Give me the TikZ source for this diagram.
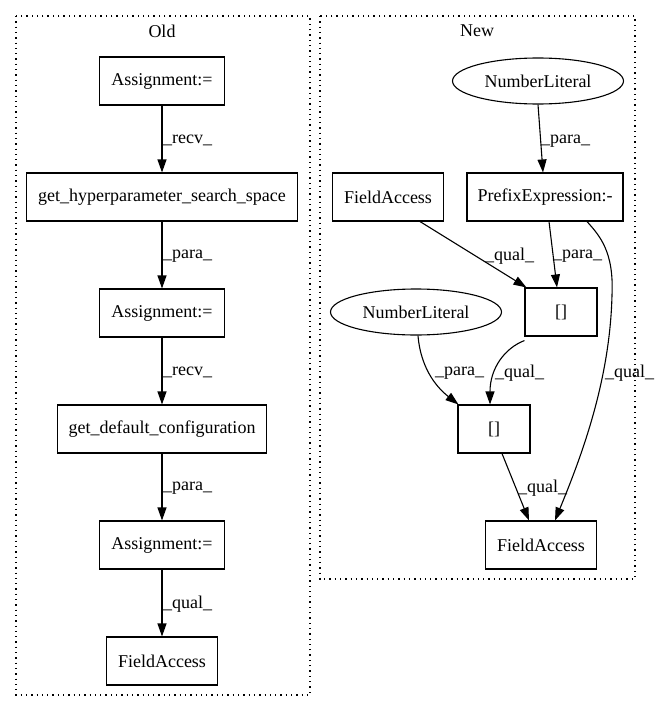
\documentclass[tikz,border=0pt]{standalone}
\usepackage{fontspec}
\setmainfont{Liberation Serif}
\usetikzlibrary{arrows.meta,shapes.geometric}
\begin{document}
\begin{tikzpicture}[x=1pt,y=-1pt,
  font=\fontsize{18}{21}\selectfont,
  box/.style={draw,line width=1.1pt,inner sep=0pt,minimum height=48pt},
  ell/.style={draw,line width=1.1pt,ellipse,inner sep=0pt,minimum width=171pt,minimum height=46pt},
  edge/.style={line width=1.1pt,-{Triangle[length=13pt,width=9pt]}},
  lbl/.style={anchor=west,inner sep=0pt},
  cluster/.style={draw,line width=1.1pt,dash pattern=on 1.3pt off 4pt}]
\useasboundingbox (0,0) rectangle (660,712);
% clusters
\draw[cluster] (16,16) rectangle (310,695);
\draw[cluster] (320,16) rectangle (635,579);
\node (toldt) at (162,31) {Old};
\node (tnewt) at (477,31) {New};
% Old
\node[box,minimum width=125pt] (a1) at (162,81) {Assignment:=};
\node[box,minimum width=271pt] (g1) at (162,197) {get\_hyperparameter\_search\_space};
\node[box,minimum width=125pt] (a2) at (162,313) {Assignment:=};
\node[box,minimum width=209pt] (g2) at (162,429) {get\_default\_configuration};
\node[box,minimum width=125pt] (a3) at (162,545) {Assignment:=};
\node[box,minimum width=111pt] (fo) at (162,661) {FieldAccess};
\draw[edge] (a1) -- (g1);
\draw[edge] (g1) -- (a2);
\draw[edge] (a2) -- (g2);
\draw[edge] (g2) -- (a3);
\draw[edge] (a3) -- (fo);
\node[lbl] (l1) at (163,140) {\_recv\_};
\node[lbl] (l2) at (163,256) {\_para\_};
\node[lbl] (l3) at (163,372) {\_recv\_};
\node[lbl] (l4) at (163,488) {\_para\_};
\node[lbl] (l5) at (163,604) {\_qual\_};
% New
\node[ell] (nl1) at (538,81) {NumberLiteral};
\node[box,minimum width=111pt] (fa1) at (388,197) {FieldAccess};
\node[box,minimum width=156pt] (pe) at (545,197) {PrefixExpression:-};
\node[box,minimum width=72pt] (sq1) at (561,312) {[]};
\node[ell] (nl2) at (416,312) {NumberLiteral};
\node[box,minimum width=72pt] (sq2) at (494,429) {[]};
\node[box,minimum width=111pt] (fa3) at (541,545) {FieldAccess};
\draw[edge] (nl1.south) -- ([xshift=-2pt]pe.north);
\draw[edge] ([xshift=32pt]fa1.south) -- ([xshift=2pt]sq1.north west);
\draw[edge] ([xshift=4pt]pe.south) -- ([xshift=-4pt]sq1.north);
\draw[edge] ([xshift=42pt]pe.south) .. controls (600,236) and (614,252) .. (612,295)
   .. controls (610,380) and (582,455) .. ([xshift=14pt]fa3.north);
\draw[edge] ([yshift=-4pt]sq1.south west) .. controls (505,348) and (490,368) .. ([xshift=-4pt]sq2.north);
\draw[edge] ([xshift=2pt]nl2.south) .. controls (421,372) and (440,390) .. ([xshift=1pt]sq2.north west);
\draw[edge] ([xshift=8pt]sq2.south) -- ([xshift=-12pt]fa3.north);
\node[lbl] (m1) at (541,141) {\_para\_};
\node[lbl] (m2) at (485,256) {\_qual\_};
\node[lbl] (m3) at (553,256) {\_para\_};
\node[lbl] (m4) at (435,373) {\_para\_};
\node[lbl] (m5) at (495,373) {\_qual\_};
\node[lbl] (m6) at (605,373) {\_qual\_};
\node[lbl] (m7) at (518,488) {\_qual\_};
\end{tikzpicture}
\end{document}
